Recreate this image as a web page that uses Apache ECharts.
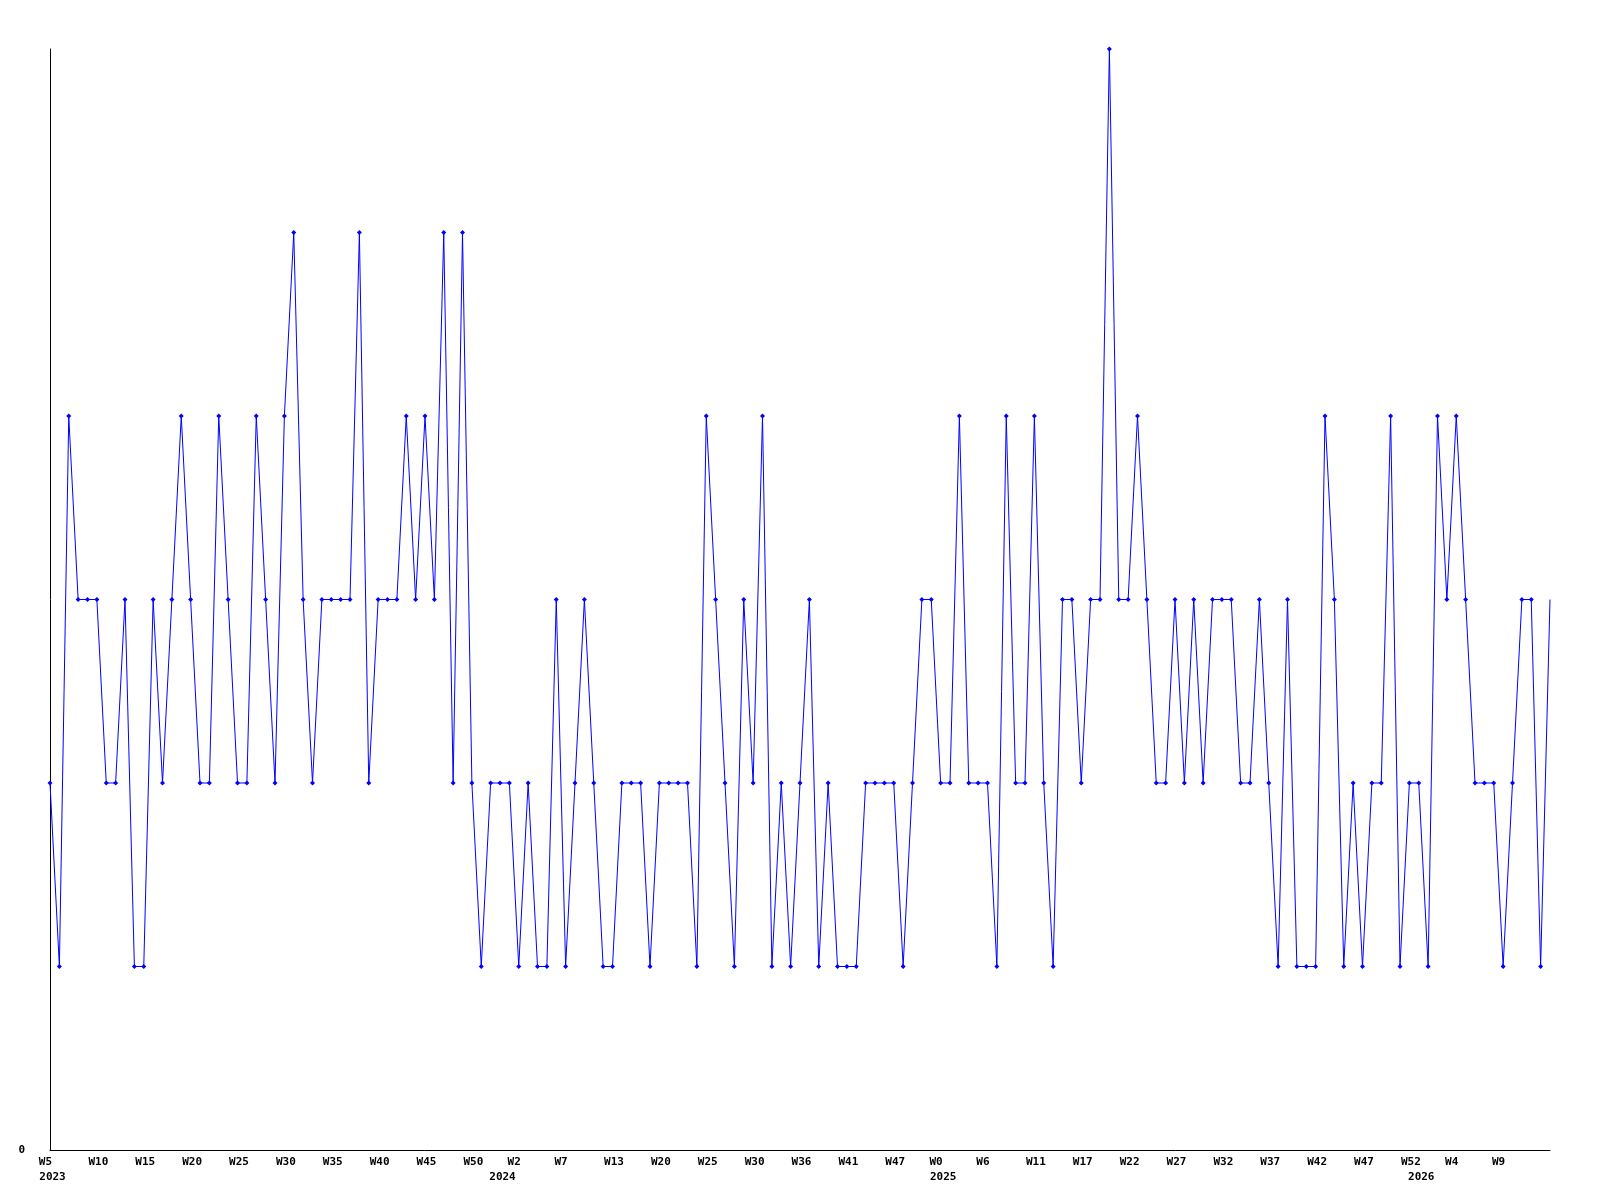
<!DOCTYPE html>
<html><head><meta charset="utf-8">
<script src="https://cdn.jsdelivr.net/npm/echarts@6/dist/echarts.min.js"></script>
<style>html,body{margin:0;padding:0;background:#fff}#c{width:1600px;height:1200px}</style>
</head><body><div id="c"></div>
<script>
// weekly values, in order
const values = [
  2,1,4,3,3,3,2,2,3,1,
  1,3,2,3,4,3,2,2,4,3,
  2,2,4,3,2,4,5,3,2,3,
  3,3,3,5,2,3,3,3,4,3,
  4,3,5,2,5,2,1,2,2,2,
  1,2,1,1,3,1,2,3,2,1,
  1,2,2,2,1,2,2,2,2,1,
  4,3,2,1,3,2,4,1,2,1,
  2,3,1,2,1,1,1,2,2,2,
  2,1,2,3,3,2,2,4,2,2,
  2,1,4,2,2,4,2,1,3,3,
  2,3,3,6,3,3,4,3,2,2,
  3,2,3,2,3,3,3,2,2,3,
  2,1,3,1,1,1,4,3,1,2,
  1,2,2,4,1,2,2,1,4,3,
  4,3,2,2,2,1,2,3,3,1,
  3
];
// x tick labels (index of the point under which each label sits)
const weekTickIndex = [0,6,11,16,21,26,31,36,41,46,50,55,61,66,71,76,81,86,91,95,100,106,111,116,121,126,131,136,141,146,150,155];
const weekTickLabels = ['W5','W10','W15','W20','W25','W30','W35','W40','W45','W50','W2','W7','W13','W20','W25','W30','W36','W41','W47','W0','W6','W11','W17','W22','W27','W32','W37','W42','W47','W52','W4','W9'];
const yearTickIndex = [0,48,95,146];
const yearTickLabels = ['2023','2024','2025','2026'];
const yTickValues = [0];
const yTickLabels = ['0'];

const categories = values.map((_, i) => String(i));
const weekMap = {}; weekTickIndex.forEach((k, j) => weekMap[k] = weekTickLabels[j]);
const yearMap = {}; yearTickIndex.forEach((k, j) => yearMap[k] = yearTickLabels[j]);

const font = { fontFamily: 'DejaVu Sans Mono', fontWeight: 'bold', fontSize: 11, color: '#000' };

const seriesData = values.map((v, i) => i === values.length - 1 ? { value: v, symbol: 'none' } : v);

const chart = echarts.init(document.getElementById('c'), null, { renderer: 'canvas' });
chart.setOption({
  animation: false,
  backgroundColor: '#ffffff',
  grid: { left: 50, right: 50, top: 49, bottom: 50, containLabel: false },
  xAxis: [{
    type: 'category', data: categories, boundaryGap: false,
    axisLine: { show: true, onZero: false, lineStyle: { color: '#000', width: 1 } },
    axisTick: { show: false }, splitLine: { show: false },
    axisLabel: Object.assign({
      interval: (i) => weekMap[i] !== undefined,
      formatter: (v, i) => weekMap[i] || '',
      align: 'right', margin: 7, padding: [0, -2, 0, 0]
    }, font)
  }, {
    type: 'category', data: categories, boundaryGap: false, position: 'bottom',
    axisLine: { show: false }, axisTick: { show: false }, splitLine: { show: false },
    axisLabel: Object.assign({
      interval: (i) => yearMap[i] !== undefined,
      formatter: (v, i) => yearMap[i] || '',
      align: 'center', margin: 22, padding: [0, 0, 0, 5]
    }, font)
  }],
  yAxis: {
    type: 'value', min: 0, max: 6, interval: 6,
    axisLine: { show: true, onZero: false, lineStyle: { color: '#000', width: 1 } },
    axisTick: { show: false }, splitLine: { show: false },
    axisLabel: Object.assign({
      margin: 25,
      formatter: (v) => { const k = yTickValues.indexOf(v); return k >= 0 ? yTickLabels[k] : ''; }
    }, font)
  },
  series: [{
    type: 'line', xAxisIndex: 0, yAxisIndex: 0,
    data: seriesData,
    symbol: 'diamond', symbolSize: 5, showAllSymbol: true,
    itemStyle: { color: '#0000ff' },
    lineStyle: { color: '#0000ff', width: 1 },
    emphasis: { disabled: true }
  }]
});
</script>
</body></html>
